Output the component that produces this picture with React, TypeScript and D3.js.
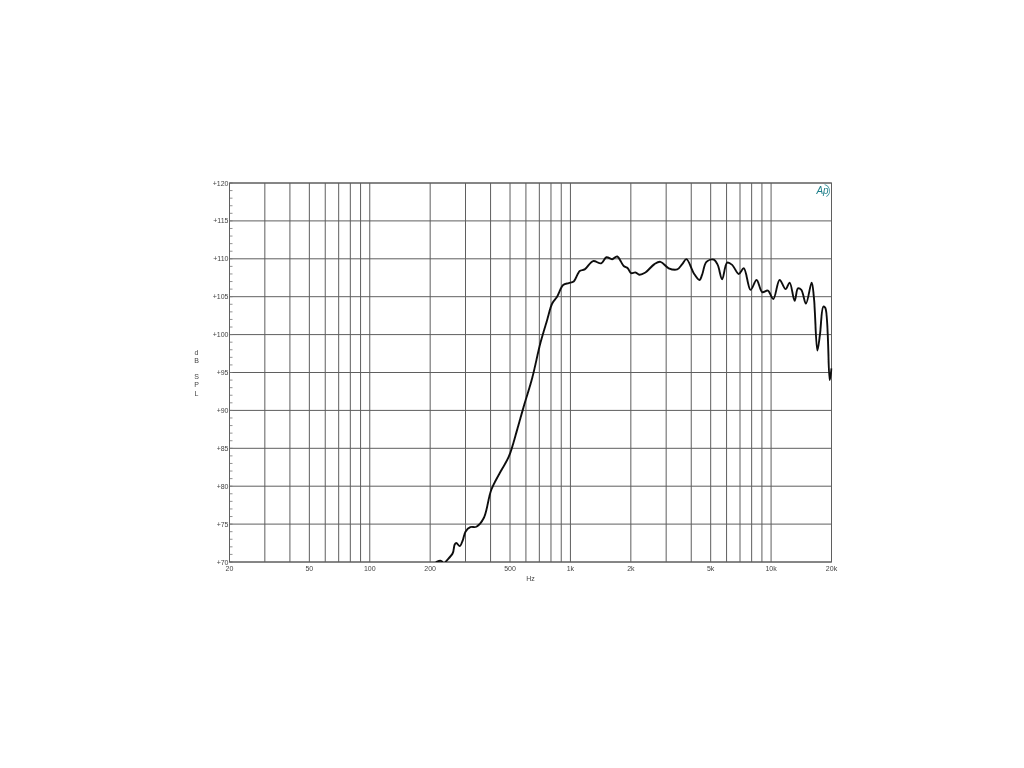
import React, { useEffect, useRef } from "react";
import * as d3 from "d3";

const freqs = [205, 216.7, 225, 229.6, 234, 238, 259, 265, 270, 281, 291, 300, 317, 340, 370, 403, 448, 493, 542, 585, 644, 708, 765, 811, 858, 920, 981, 1038, 1113, 1178, 1297, 1422, 1511, 1614, 1709, 1843, 1930, 2006, 2109, 2207, 2365, 2622, 2809, 3090, 3404, 3606, 3786, 4118, 4395, 4533, 4762, 5176, 5420, 5702, 6040, 6397, 6902, 7311, 7900, 8463, 9036, 9638, 10255, 11027, 11814, 12369, 13103, 13608, 14147, 14918, 15925, 16355, 17006, 17520, 18219, 18642, 19590, 20000];
const spl = [69.5, 70.04, 70.17, 70.04, 69.6, 69.96, 71.15, 72.3, 72.5, 72.1, 72.9, 74, 74.6, 74.65, 75.8, 79.5, 81.9, 83.9, 87.4, 90.5, 94.2, 98.85, 101.9, 104.1, 105, 106.55, 106.8, 107, 108.4, 108.6, 109.7, 109.4, 110.2, 109.95, 110.3, 109.05, 108.75, 108.1, 108.2, 107.9, 108.2, 109.3, 109.6, 108.75, 108.6, 109.3, 109.95, 108.1, 107.2, 107.9, 109.6, 109.9, 109.2, 107.3, 109.5, 109.2, 108, 108.75, 105.9, 107.2, 105.6, 105.8, 104.7, 107.2, 106, 106.85, 104.45, 106.1, 105.9, 104.1, 106.85, 104.8, 97.9, 100, 103.7, 103.5, 94, 95.55];
const gridFreqs = [30, 40, 50, 60, 70, 80, 90, 100, 200, 300, 400, 500, 600, 700, 800, 900, 1000, 2000, 3000, 4000, 5000, 6000, 7000, 8000, 9000, 10000];
const xTickValues = [20, 50, 100, 200, 500, 1000, 2000, 5000, 10000, 20000];
const xTickLabels = ["20", "50", "100", "200", "500", "1k", "2k", "5k", "10k", "20k"];
const yTicks = [70, 75, 80, 85, 90, 95, 100, 105, 110, 115, 120];
const yMinor = d3.range(70, 121);
const yTitleLetters = ["d", "B", "", "S", "P", "L"];

const W = 1024, H = 768;
const FONT = "'Liberation Sans', Arial, sans-serif";

export default function App() {
  const ref = useRef<SVGSVGElement>(null);
  useEffect(() => {
    const svg = d3.select(ref.current);
    svg.selectAll("*").remove();
    const x = d3.scaleLog().domain([20, 20000]).range([229.5, 831.5]);
    const y = d3.scaleLinear().domain([70, 120]).range([562, 183]);
    const [x0, x1] = x.range();
    const [y0, y1] = y.range();

    const defs = svg.append("defs");
    defs.append("clipPath").attr("id", "plot").append("rect")
      .attr("x", x0).attr("y", y1).attr("width", x1 - x0 + 1).attr("height", y0 - y1);
    defs.append("filter").attr("id", "soft").append("feGaussianBlur").attr("stdDeviation", 0.35);

    const g = svg.append("g").attr("filter", "url(#soft)");
    const gridColor = "#5f5f5f";

    g.append("g").selectAll("line").data(gridFreqs).join("line")
      .attr("x1", d => x(d)).attr("x2", d => x(d)).attr("y1", y1).attr("y2", y0)
      .attr("stroke", gridColor).attr("stroke-width", 1);
    g.append("g").selectAll("line").data(yTicks).join("line")
      .attr("x1", x0).attr("x2", x1).attr("y1", d => y(d)).attr("y2", d => y(d))
      .attr("stroke", gridColor).attr("stroke-width", 1);
    g.append("g").selectAll("line").data(yMinor).join("line")
      .attr("x1", x0).attr("x2", x0 + 3).attr("y1", d => y(d)).attr("y2", d => y(d))
      .attr("stroke", "#777").attr("stroke-width", 0.8);
    g.append("rect").attr("x", x0).attr("y", y1).attr("width", x1 - x0).attr("height", y0 - y1)
      .attr("fill", "none").attr("stroke", gridColor).attr("stroke-width", 1);

    g.append("g").selectAll("text").data(yTicks).join("text")
      .attr("x", x0 - 1).attr("y", d => y(d) + 2.5).attr("text-anchor", "end")
      .attr("font-family", FONT).attr("font-size", 7).attr("fill", "#444")
      .text(d => `+${d}`);
    g.append("g").selectAll("text").data(xTickValues).join("text")
      .attr("x", d => x(d)).attr("y", y0 + 8.5).attr("text-anchor", "middle")
      .attr("font-family", FONT).attr("font-size", 7).attr("fill", "#444")
      .text((_, i) => xTickLabels[i]);
    g.append("text").attr("x", 530.5).attr("y", 581).attr("text-anchor", "middle")
      .attr("font-family", FONT).attr("font-size", 7).attr("fill", "#444").text("Hz");
    g.append("g").selectAll("text").data(yTitleLetters).join("text")
      .attr("x", 196.5).attr("y", (_, i) => 355 + i * 8.1).attr("text-anchor", "middle")
      .attr("font-family", FONT).attr("font-size", 7).attr("fill", "#444").text(d => d);

    const pts = freqs.map((f, i) => [f, spl[i]] as [number, number]);
    const line = d3.line<[number, number]>().x(d => x(d[0])).y(d => y(d[1])).curve(d3.curveCatmullRom.alpha(0.5));
    g.append("path").attr("d", line(pts)).attr("clip-path", "url(#plot)")
      .attr("fill", "none").attr("stroke", "#111").attr("stroke-width", 1.9).attr("stroke-linejoin", "round");

    const logo = g.append("g").attr("transform", "translate(823,191)");
    logo.append("path").attr("d", d3.arc()({ innerRadius: 6.2, outerRadius: 6.9, startAngle: 0.25, endAngle: 2.6 }) as string)
      .attr("fill", "#2f8f98");
    logo.append("text").attr("x", -0.5).attr("y", 3.2).attr("text-anchor", "middle")
      .attr("font-family", FONT).attr("font-size", 10).attr("font-style", "italic").attr("fill", "#1f7f8a").text("Ap");
  }, []);
  return <svg ref={ref} width={W} height={H} style={{ position: "absolute", left: 0, top: 0, background: "#fff" }} />;
}
